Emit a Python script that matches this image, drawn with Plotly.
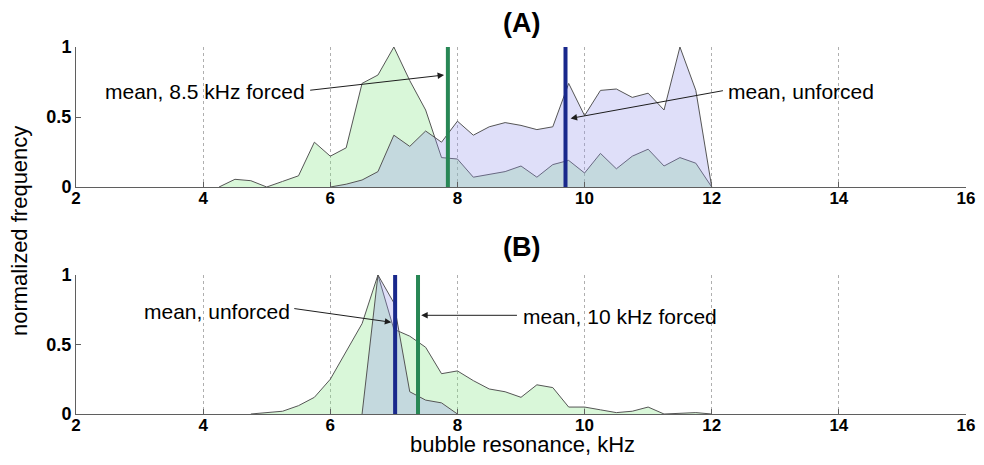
import plotly.graph_objects as go

# ---------------- data ----------------
# Panel A
a_forced_x = [4.25, 4.5, 4.75, 5.0, 5.25, 5.5, 5.75, 6.0, 6.25, 6.5, 6.75, 7.0, 7.25, 7.5, 7.75, 8.0,
              8.25, 8.5, 8.75, 9.0, 9.25, 9.5, 9.75, 10.0, 10.25, 10.5, 10.75, 11.0, 11.25, 11.5, 11.75, 12.0]
a_forced_y = [0.0, 0.055, 0.045, 0.0, 0.04, 0.08, 0.32, 0.22, 0.28, 0.74, 0.80, 1.0, 0.76, 0.55, 0.21, 0.20,
              0.07, 0.09, 0.11, 0.15, 0.07, 0.16, 0.19, 0.10, 0.24, 0.13, 0.22, 0.27, 0.15, 0.21, 0.17, 0.0]
a_unforced_x = [6.0, 6.25, 6.5, 6.75, 7.0, 7.25, 7.5, 7.75, 8.0, 8.25, 8.5, 8.75, 9.0, 9.25, 9.5, 9.75,
                10.0, 10.25, 10.5, 10.75, 11.0, 11.25, 11.5, 11.75, 12.0]
a_unforced_y = [0.0, 0.02, 0.05, 0.11, 0.37, 0.29, 0.40, 0.32, 0.47, 0.37, 0.43, 0.46, 0.44, 0.41, 0.43, 0.74,
                0.51, 0.69, 0.70, 0.64, 0.67, 0.55, 1.0, 0.69, 0.0]
a_mean_forced = 7.85
a_mean_unforced = 9.7

# Panel B
b_forced_x = [4.75, 5.0, 5.25, 5.5, 5.75, 6.0, 6.25, 6.5, 6.75, 7.0, 7.25, 7.5, 7.75, 8.0, 8.25, 8.5,
              8.75, 9.0, 9.25, 9.5, 9.75, 10.0, 10.25, 10.5, 10.75, 11.0, 11.25, 11.5, 11.75, 12.0]
b_forced_y = [0.0, 0.01, 0.02, 0.06, 0.12, 0.25, 0.45, 0.65, 1.0, 0.61, 0.56, 0.48, 0.29, 0.31, 0.24, 0.18,
              0.16, 0.12, 0.21, 0.19, 0.05, 0.05, 0.03, 0.01, 0.02, 0.05, 0.0, 0.005, 0.01, 0.0]
b_unforced_x = [6.5, 6.75, 7.0, 7.25, 7.5, 7.75, 8.0]
b_unforced_y = [0.0, 1.0, 0.80, 0.16, 0.10, 0.08, 0.0]
b_mean_unforced = 7.02
b_mean_forced = 7.38

x_ticks = [2, 4, 6, 8, 10, 12, 14, 16]
y_ticks = [0, 0.5, 1]
y_ticklabels = ["0", "0.5", "1"]

# ---------------- styles ----------------
GREEN_FILL = "rgba(130,230,130,0.3)"
PURPLE_FILL = "rgba(150,150,235,0.3)"
CURVE_LINE = "rgb(85,85,85)"
GREEN_MEAN = "rgb(40,135,85)"
BLUE_MEAN = "rgb(25,40,140)"
FONT = "Liberation Sans, Arial, sans-serif"

# page has an 8px body margin: size the figure so the page fits the window exactly
OFF = 8
W, H = 984 - 2 * OFF, 465 - 2 * OFF
L = 76 - OFF
R = W - (966 - OFF)

def py(y_win):
    return 1 - (y_win - OFF) / H

def px(x_win):
    return (x_win - OFF - L) / (W - L - R)

fig = go.Figure()

def add_panel(xa, ya, fx, fy, ux, uy, means):
    fig.add_trace(go.Scatter(x=fx, y=fy, mode="lines", fill="tozeroy", fillcolor=GREEN_FILL,
                             line=dict(color=CURVE_LINE, width=1), xaxis=xa, yaxis=ya, showlegend=False))
    fig.add_trace(go.Scatter(x=ux, y=uy, mode="lines", fill="tozeroy", fillcolor=PURPLE_FILL,
                             line=dict(color=CURVE_LINE, width=1), xaxis=xa, yaxis=ya, showlegend=False))
    for m, c in means:
        fig.add_trace(go.Scatter(x=[m, m], y=[0, 1], mode="lines", line=dict(color=c, width=4),
                                 xaxis=xa, yaxis=ya, showlegend=False))

add_panel("x", "y", a_forced_x, a_forced_y, a_unforced_x, a_unforced_y,
          [(a_mean_forced, GREEN_MEAN), (a_mean_unforced, BLUE_MEAN)])
add_panel("x2", "y2", b_forced_x, b_forced_y, b_unforced_x, b_unforced_y,
          [(b_mean_unforced, BLUE_MEAN), (b_mean_forced, GREEN_MEAN)])

xaxis_common = dict(range=[2, 16], tickvals=x_ticks, showgrid=True, gridcolor="rgb(175,175,175)",
                    griddash="dot", gridwidth=1, showline=True, linecolor="rgb(95,95,95)", linewidth=1,
                    ticks="inside", ticklen=5, tickcolor="rgb(95,95,95)", zeroline=False, automargin=False,
                    ticklabeloverflow="allow", ticklabelstandoff=-4,
                    tickfont=dict(family=FONT, size=17, color="black", weight="bold"))
yaxis_common = dict(range=[0, 1], tickvals=y_ticks, ticktext=y_ticklabels, showgrid=False,
                    showline=True, linecolor="rgb(95,95,95)", linewidth=1, ticks="inside", ticklen=5,
                    tickcolor="rgb(95,95,95)", zeroline=False, automargin=False,
                    ticklabeloverflow="allow",
                    tickfont=dict(family=FONT, size=18, color="black", weight="bold"))

fig.update_layout(
    width=W, height=H,
    margin=dict(l=L, r=R, t=0, b=0, autoexpand=False),
    paper_bgcolor="white", plot_bgcolor="white",
    xaxis=dict(**xaxis_common, domain=[0, 1], anchor="y"),
    yaxis=dict(**yaxis_common, domain=[py(187), py(47)], anchor="x"),
    xaxis2=dict(**xaxis_common, domain=[0, 1], anchor="y2"),
    yaxis2=dict(**yaxis_common, domain=[py(414), py(275)], anchor="x2"),
    font=dict(family=FONT, size=21, color="black"),
)

ann = []
C = dict(xref="paper", yref="paper", showarrow=False, xanchor="center", yanchor="middle")
ann.append(dict(text="<b>(A)</b>", x=px(521), y=py(23), font=dict(size=27), **C))
ann.append(dict(text="<b>(B)</b>", x=px(521), y=py(247), font=dict(size=27), **C))
ann.append(dict(text="bubble resonance, kHz", x=px(522), y=py(444), font=dict(size=22),
                borderpad=0, **C))
ann.append(dict(text="normalized frequency", x=px(19), y=py(231), textangle=-90,
                font=dict(size=22), **C))

def label_arrow(xr, yr, text, tx, ty, anchor, hx, hy, sx, sy):
    ann.append(dict(text=text, x=tx, y=ty, xref=xr, yref=yr, xanchor=anchor, yanchor="middle",
                    showarrow=False, font=dict(size=21)))
    ann.append(dict(text="", x=hx, y=hy, ax=sx, ay=sy, xref=xr, yref=yr, axref=xr, ayref=yr,
                    showarrow=True, arrowhead=2, arrowsize=1.3, arrowwidth=1, arrowcolor="rgb(30,30,30)"))

label_arrow("x", "y", "mean, 8.5 kHz forced", 5.64, 0.68, "right", 7.79, 0.80, 5.66, 0.69)
label_arrow("x", "y", "mean, unforced", 12.22, 0.68, "left", 9.78, 0.49, 12.2, 0.69)
label_arrow("x2", "y2", "mean, unforced", 5.39, 0.74, "right", 6.96, 0.66, 5.41, 0.76)
label_arrow("x2", "y2", "mean, 10 kHz forced", 9.0, 0.70, "left", 7.43, 0.71, 8.96, 0.71)

fig.update_layout(annotations=ann)
fig.write_html("out.html")
